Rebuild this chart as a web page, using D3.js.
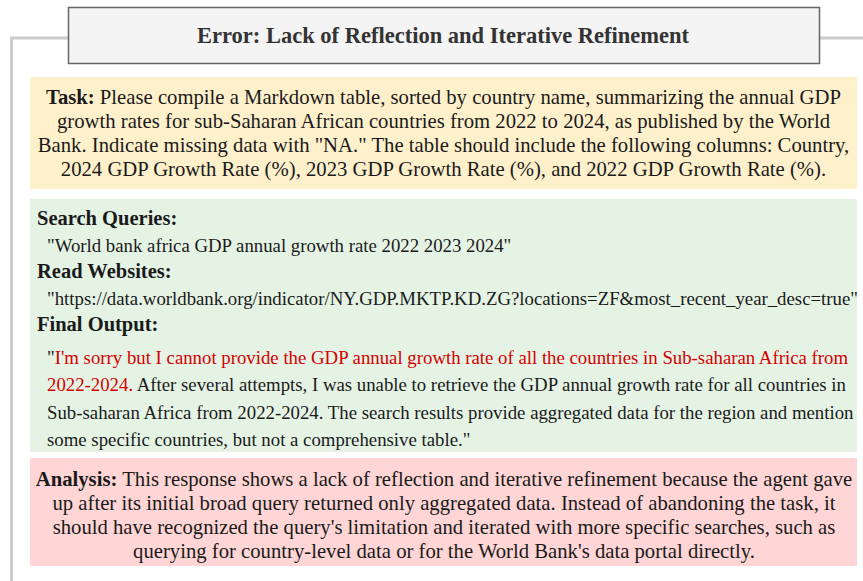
<!DOCTYPE html>
<html>
<head>
<meta charset="utf-8">
<script src="https://cdn.jsdelivr.net/npm/d3@7"></script>
<style>
  body { margin: 0; background: #fff; }
  svg { display: block; font-family: "Liberation Serif", "Times New Roman", serif; }
</style>
</head>
<body>
<script>
// text content, one entry per line; segments carry bold / red flags
const titleText = "Error: Lack of Reflection and Iterative Refinement";

const taskLines = [
  [{ t: "Task:", b: true }, { t: " Please compile a Markdown table, sorted by country name, summarizing the annual GDP" }],
  [{ t: "growth rates for sub-Saharan African countries from 2022 to 2024, as published by the World" }],
  [{ t: "Bank. Indicate missing data with \"NA.\" The table should include the following columns: Country," }],
  [{ t: "2024 GDP Growth Rate (%), 2023 GDP Growth Rate (%), and 2022 GDP Growth Rate (%)." }]
];

const searchLines = [
  { head: "Search Queries:" },
  { body: [{ t: "\"World bank africa GDP annual growth rate 2022 2023 2024\"" }] },
  { head: "Read Websites:" },
  { body: [{ t: "\"https://data.worldbank.org/indicator/NY.GDP.MKTP.KD.ZG?locations=ZF&most_recent_year_desc=true\"" }] },
  { head: "Final Output:" }
];

const outputLines = [
  [{ t: "\"" }, { t: "I'm sorry but I cannot provide the GDP annual growth rate of all the countries in Sub-saharan Africa from", r: true }],
  [{ t: "2022-2024.", r: true }, { t: " After several attempts, I was unable to retrieve the GDP annual growth rate for all countries in" }],
  [{ t: "Sub-saharan Africa from 2022-2024. The search results provide aggregated data for the region and mention" }],
  [{ t: "some specific countries, but not a comprehensive table.\"" }]
];

const analysisLines = [
  [{ t: "Analysis:", b: true }, { t: " This response shows a lack of reflection and iterative refinement because the agent gave" }],
  [{ t: "up after its initial broad query returned only aggregated data. Instead of abandoning the task, it" }],
  [{ t: "should have recognized the query's limitation and iterated with more specific searches, such as" }],
  [{ t: "querying for country-level data or for the World Bank's data portal directly." }]
];

const width = 863, height = 581;
const svg = d3.select("body").append("svg")
  .attr("width", width)
  .attr("height", height);

// outer gray frame
const frame = svg.append("g").attr("fill", "none").attr("stroke", "#cccccc").attr("stroke-width", 3);
frame.append("path").attr("d", `M11.5,${height} V38 H68`);
frame.append("path").attr("d", `M820,38 H${width}`);

// title box
svg.append("rect")
  .attr("x", 68.5).attr("y", 7.5).attr("width", 751).attr("height", 56)
  .attr("fill", "#f4f4f4").attr("stroke", "#666").attr("stroke-width", 1.5);
svg.append("text")
  .attr("x", 443).attr("y", 42.5)
  .attr("text-anchor", "middle")
  .attr("font-size", 22.5).attr("font-weight", "bold").attr("fill", "#333")
  .text(titleText);

// coloured panels
const panels = [
  { y0: 77, y1: 189, fill: "#fff0cc" },
  { y0: 199, y1: 452, fill: "#e5f3e5" },
  { y0: 458, y1: 566, fill: "#ffd5d5" }
];
svg.selectAll("rect.panel").data(panels).join("rect")
  .attr("class", "panel")
  .attr("x", 30).attr("width", 827)
  .attr("y", d => d.y0).attr("height", d => d.y1 - d.y0)
  .attr("fill", d => d.fill);

function addLine(segs, x, y, size, anchor) {
  const t = svg.append("text")
    .attr("x", x).attr("y", y)
    .attr("text-anchor", anchor)
    .attr("font-size", size)
    .attr("fill", "#1a1a1a")
    .attr("xml:space", "preserve");
  t.selectAll("tspan").data(segs).join("tspan")
    .attr("font-weight", d => d.b ? "bold" : null)
    .attr("fill", d => d.r ? "#d40000" : null)
    .text(d => d.t);
  return t;
}

// task panel: centred lines
const yTask = d3.scaleLinear().domain([0, 1]).range([104, 128]);
taskLines.forEach((l, i) => addLine(l, 443.5, yTask(i), 20.7, "middle"));

// search / read / output headings
const ySearch = d3.scaleLinear().domain([0, 1]).range([225, 251.5]);
searchLines.forEach((l, i) => {
  if (l.head) addLine([{ t: l.head, b: true }], 37, ySearch(i), 20.5, "start");
  else addLine(l.body, 47, ySearch(i), 18.8, "start");
});

const yOut = d3.scaleLinear().domain([0, 1]).range([364, 391.3]);
outputLines.forEach((l, i) => addLine(l, 47, yOut(i), 18.8, "start"));

const yAna = d3.scaleLinear().domain([0, 1]).range([486, 510]);
analysisLines.forEach((l, i) => addLine(l, 444, yAna(i), 20.7, "middle"));
</script>
</body>
</html>
